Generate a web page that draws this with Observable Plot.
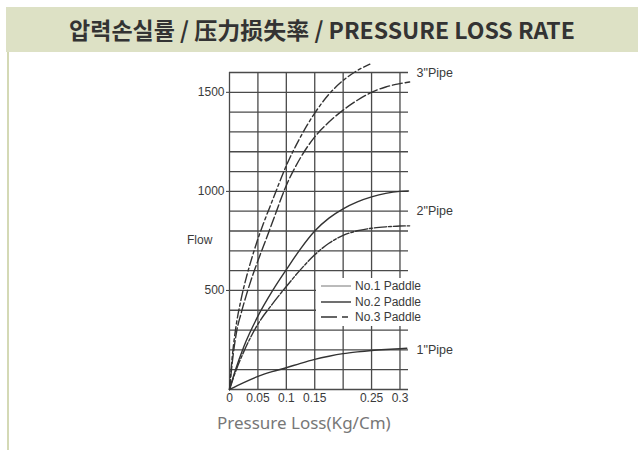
<!DOCTYPE html>
<html>
<head>
<meta charset="utf-8">
<script src="https://cdn.jsdelivr.net/npm/d3@7"></script>
<script src="https://cdn.jsdelivr.net/npm/@observablehq/plot@0.6"></script>
<style>
  html, body { margin: 0; padding: 0; background: #ffffff; }
  #page { position: relative; width: 638px; height: 450px; overflow: hidden; background: #fff; }
  #banner { position: absolute; left: 6px; top: 7px; right: 0; height: 45px; background: #dde1c5;
    font-family: "Noto Sans CJK KR", "Noto Sans", sans-serif; font-weight: 700; font-size: 23px;
    color: #333; text-align: center; line-height: 45px; }
  #edge { position: absolute; left: 7px; top: 52px; width: 2px; bottom: 0; background: #d4d9b5; }
  #chart { position: absolute; left: 0; top: 52px; }
  #flow { position: absolute; left: 187px; top: 233px; font-family: "Liberation Sans", Arial, sans-serif; font-size: 12px; color: #3a3a3a; }
  #legend { position: absolute; left: 316px; top: 278px; width: 94px; height: 48px; background: #fff;
    font-family: "Liberation Sans", Arial, sans-serif; font-size: 12px; color: #3a3a3a; }
  #legend div { position: absolute; left: 5px; height: 14px; display: flex; align-items: center; white-space: nowrap; }
  #legend svg { margin-right: 4px; }
  #caption { position: absolute; left: 217px; top: 411px; font-family: "Noto Sans", "Open Sans", sans-serif; font-size: 17px; color: #777; }
</style>
</head>
<body>
<div id="page">
  <div id="banner">압력손실률 / 压力损失率 / PRESSURE LOSS RATE</div>
  <div id="edge"></div>
  <div id="chart"></div>
  <div id="flow">Flow</div>
  <div id="legend"></div>
  <div id="caption">Pressure Loss(Kg/Cm)</div>
</div>
<script>
// ---- data (pressure loss in Kg/Cm, flow) ----
const pipe3Upper = [[0,0],[0.005,170],[0.01,290],[0.02,450],[0.03,570],[0.04,670],[0.05,760],[0.06,840],[0.075,950],[0.1,1130],[0.125,1275],[0.15,1395],[0.175,1490],[0.2,1560],[0.225,1610],[0.247,1642]];
const pipe3Lower = [[0,0],[0.005,140],[0.013,300],[0.02,380],[0.03,480],[0.04,570],[0.05,650],[0.06,725],[0.075,840],[0.1,1030],[0.125,1170],[0.15,1275],[0.175,1350],[0.2,1410],[0.225,1460],[0.25,1500],[0.275,1527],[0.3,1544],[0.317,1552]];
const pipe2Upper = [[0,0],[0.01,95],[0.025,215],[0.05,370],[0.075,495],[0.1,605],[0.125,710],[0.15,800],[0.175,865],[0.2,912],[0.225,947],[0.25,972],[0.275,990],[0.3,1000],[0.315,1002]];
const pipe2Lower = [[0,0],[0.01,85],[0.025,190],[0.05,330],[0.075,430],[0.1,520],[0.125,605],[0.15,680],[0.175,738],[0.2,778],[0.225,801],[0.25,814],[0.275,821],[0.3,825],[0.317,826]];
const pipe1 = [[0,0],[0.025,35],[0.05,66],[0.075,90],[0.1,110],[0.125,132],[0.15,152],[0.175,168],[0.2,181],[0.225,190],[0.25,197],[0.275,202],[0.3,206],[0.312,208]];

const xTickLabels = [0, 0.05, 0.1, 0.15, 0.25, 0.3];
const xGrid = [0, 0.05, 0.1, 0.15, 0.2, 0.25, 0.3];
const yTickLabels = [500, 1000, 1500];
const yGrid = d3.range(0, 1601, 100);
const pipeLabels = ['3"Pipe', '2"Pipe', '1"Pipe'];
const pipeLabelFlow = [1600, 900, 200];
const legendLabels = ["No.1 Paddle", "No.2 Paddle", "No.3 Paddle"];

const ink = "#333";
const gridInk = "#4a4a4a";
const font = "Liberation Sans, Arial, sans-serif";

const series = [
  {data: pipe3Upper, dash: "9,3,3,3"},
  {data: pipe3Lower, dash: "10,3"},
  {data: pipe2Upper, dash: null},
  {data: pipe2Lower, dash: "12,2,3,2"},
  {data: pipe1, dash: null}
];

const chart = Plot.plot({
  width: 638,
  height: 360,
  marginTop: 20,
  marginBottom: 23,
  marginLeft: 229,
  marginRight: 230,
  style: {overflow: "visible", background: "transparent"},
  x: {domain: [0, 0.315]},
  y: {domain: [0, 1600]},
  marks: [
    Plot.ruleY(yGrid, {stroke: gridInk, strokeWidth: 1.3}),
    Plot.ruleX(xGrid, {stroke: gridInk, strokeWidth: 1.3}),
    ...series.map(s => Plot.line(s.data, {
      x: d => d[0], y: d => d[1], curve: "monotone-x",
      stroke: ink, strokeWidth: 1.4, strokeDasharray: s.dash
    })),
    Plot.axisX({ticks: xTickLabels, tickSize: 0, tickPadding: 4, tickFormat: d => String(d),
      fontSize: 12, fontFamily: font, color: "#3a3a3a", label: null}),
    Plot.axisY({ticks: yTickLabels, tickSize: 3, tickPadding: 2, tickFormat: d => String(d),
      fontSize: 12, fontFamily: font, color: "#3a3a3a", label: null}),
    Plot.text(pipeLabels, {y: (d, i) => pipeLabelFlow[i], text: d => d, frameAnchor: "right",
      textAnchor: "start", dx: 8, fontSize: 12.5, fontFamily: font, fill: "#3a3a3a"})
  ]
});
document.getElementById("chart").appendChild(chart);

// legend (sits on a white patch inside the plot, as in the reference)
const legendStyles = [
  {dash: null, stroke: "#777", width: 1},
  {dash: null, stroke: ink, width: 1.4},
  {dash: "16,5,6,5", stroke: ink, width: 1.4}
];
const legend = document.getElementById("legend");
legendLabels.forEach((lab, i) => {
  const row = document.createElement("div");
  row.style.top = (1 + i * 15.5) + "px";
  const st = legendStyles[i];
  row.innerHTML = `<svg width="30" height="10"><line x1="0" y1="5" x2="30" y2="5" stroke="${st.stroke}" stroke-width="${st.width}" ${st.dash ? `stroke-dasharray="${st.dash}"` : ""}/></svg><span>${lab}</span>`;
  legend.appendChild(row);
});
</script>
</body>
</html>
